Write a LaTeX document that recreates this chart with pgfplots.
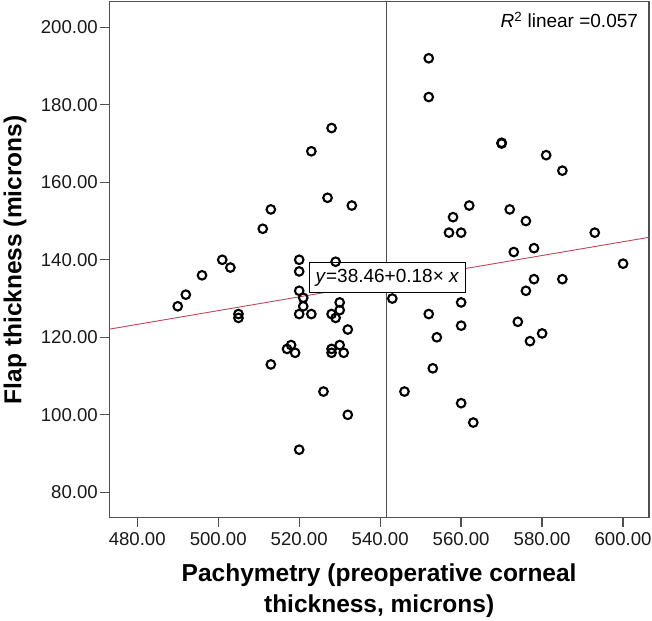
\documentclass[border=0pt]{standalone}
\usepackage{pgfplots}
\pgfplotsset{compat=1.18}
\usepackage{fontspec}
\setmainfont{Liberation Sans}
\definecolor{axgray}{RGB}{80,80,80}
\definecolor{fitred}{RGB}{190,70,90}
\begin{document}
\begin{tikzpicture}
\begin{axis}[
  scale only axis,
  width=539.7pt, height=516pt,
  xmin=473.1, xmax=606.4, ymin=73.45, ymax=206.6,
  xtick={480,500,520,540,560,580,600},
  ytick={80,100,120,140,160,180,200},
  xtick pos=bottom, ytick pos=left,
  tick align=outside,
  major tick length=9pt,
  axis line style={axgray, line width=1.3pt},
  every tick/.style={axgray, line width=1.3pt},
  /pgf/number format/.cd, fixed, fixed zerofill, precision=2, 1000 sep={}, assume math mode=true,
  /pgfplots/.cd,
  ticklabel style={font=\fontsize{18.6pt}{22pt}\selectfont, text=black!90},
  xticklabel style={yshift=-2pt},
  yticklabel style={xshift=1pt},
  xlabel={Pachymetry (preoperative corneal\\thickness, microns)},
  xlabel style={at={(axis description cs:0.5,0)}, anchor=north, yshift=-46pt, inner sep=0pt,
    align=center, font=\fontsize{24.5pt}{31.3pt}\selectfont\bfseries},
  ylabel={Flap thickness (microns)},
  ylabel style={at={(axis description cs:-0.1964,0.5)}, anchor=north, inner sep=0pt,
    font=\fontsize{24.5pt}{29pt}\selectfont\bfseries},
  clip=true,
]
% vertical reference line (mean pachymetry)
\addplot[axgray, line width=1.1pt] coordinates {(541.5,73.45) (541.5,206.6)};
% fit line
\addplot[fitred, line width=0.9pt] coordinates {(473.1,122.1) (606.4,145.8)};
% data
\addplot[only marks, mark=o, mark size=4.3pt, mark options={line width=2.1pt, black}] coordinates {
(528,174) (523,168) (527,156) (533,154) (513,153) (511,148) (501,140) (503,138)
(520,140) (520,137) (529,139.5) (496,136) (492,131) (490,128) (505,126) (505,125)
(520,132) (521,130.2) (521,128) (520,126) (523,126) (528,126) (530,129) (530,127)
(529,125) (532,122) (518,118) (517,117) (519,116) (528,117) (528,116) (530,118)
(531,116) (513,113) (526,106) (532,100) (520,91) (543,130)
(552,192) (552,182) (570,170) (570,170.2) (581,167) (585,163) (562,154) (558,151)
(557,147) (560,147) (572,153) (576,150) (593,147) (573,142) (578,143) (600,139)
(578,135) (585,135) (576,132) (560,129) (552,126) (560,123) (574,124) (580,121)
(577,119) (554,120) (553,112) (546,106) (560,103) (563,98)
};
\node[draw=black, line width=1.3pt, fill=white, inner xsep=6pt, inner ysep=6pt,
  text height=14pt, text depth=4pt, font=\fontsize{19pt}{22pt}\selectfont]
  at (axis cs:541.8,135.4) {\textit{y}=38.46+0.18× \textit{x}};
\node[anchor=base east, inner sep=0pt, font=\fontsize{19pt}{22pt}\selectfont]
  at (axis description cs:0.980,0.9504) {\textit{R}\textsuperscript{2} linear =0.057};
\end{axis}
\pgfresetboundingbox
\path ([shift={(-109.3pt,-102.3pt)}]current axis.south west) rectangle ([shift={(3pt,1.7pt)}]current axis.north east);
\end{tikzpicture}
\end{document}
